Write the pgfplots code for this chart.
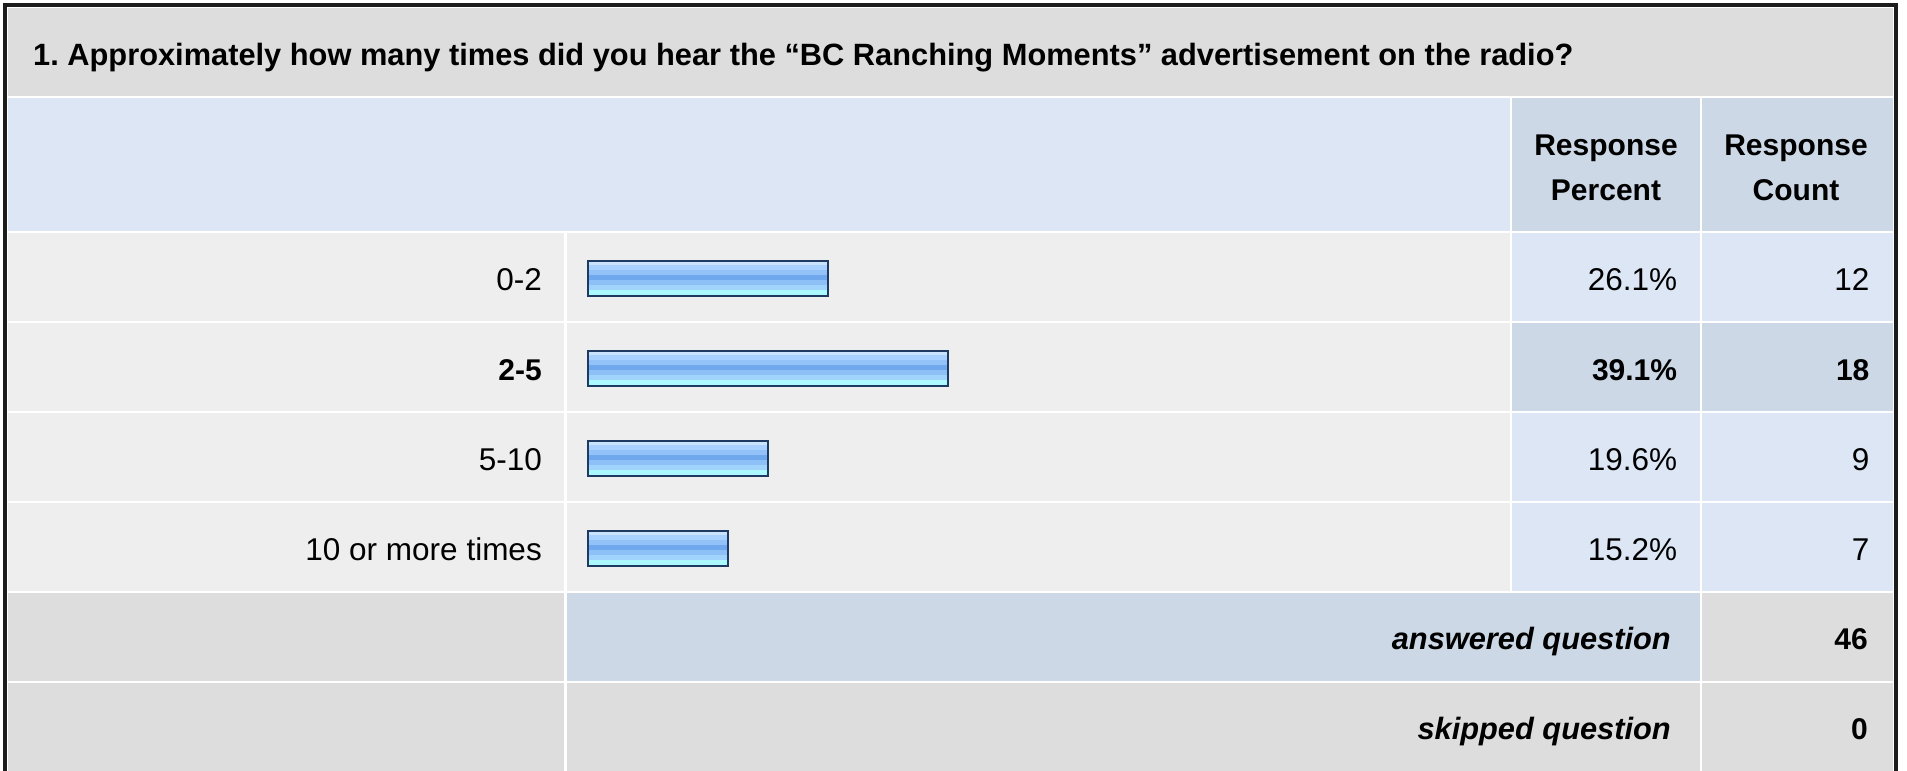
\documentclass[border=0pt]{standalone}
\usepackage{pgfplots}
\pgfplotsset{compat=1.18}
\usepackage{pgfplotstable}
\usepackage{fontspec}
\setmainfont{Liberation Sans}

\definecolor{framec}{HTML}{1C1C1C}
\definecolor{greybg}{HTML}{DDDDDD}
\definecolor{rowbg}{HTML}{EEEEEE}
\definecolor{lightblue}{HTML}{DCE6F4}
\definecolor{midblue}{HTML}{CCD8E6}
\definecolor{barline}{HTML}{1F3A60}
% the bar's gradient, top to bottom
\definecolor{barA}{HTML}{C9E3FF}
\definecolor{barB}{HTML}{A9D1FF}
\definecolor{barC}{HTML}{93C2F9}
\definecolor{barD}{HTML}{70A8EE}
\definecolor{barE}{HTML}{8CC0F7}
\definecolor{barF}{HTML}{A0D4FC}
\definecolor{barG}{HTML}{ABF8FF}

% response percent and count per answer
\pgfplotstableread{
idx pct count
0 26.1 12
1 39.1 18
2 19.6 9
3 15.2 7
}\responses

\newcommand\reg{\fontsize{31.5}{45}\selectfont}
\newcommand\bld{\fontsize{30}{45}\selectfont\bfseries}
\newcommand\bldl{\fontsize{30.8}{45}\selectfont\bfseries}

\begin{document}
\frenchspacing
\reg
\begin{tikzpicture}[txt/.style={inner sep=0pt, anchor=base east}]
\path[use as bounding box] (0pt,0pt) rectangle (1907pt,-771pt);
\begin{scope}[x=1pt,y=-1pt]
  \fill[white] (0,0) rectangle (1907,771);
  \fill[framec] (3,3) rectangle (1898,790);
  \fill[white] (7,7) rectangle (1894,790);
  % title row
  \fill[greybg] (8,8) rectangle (1893,96);
  \node[inner sep=0pt, anchor=base west, font=\bldl] at (33,65) {1. Approximately how many times did you hear the “BC Ranching Moments” advertisement on the radio?};
  % header row
  \fill[lightblue] (8,98) rectangle (1510,231);
  \fill[midblue] (1512,98) rectangle (1700,231);
  \fill[midblue] (1702,98) rectangle (1893,231);
  \node[inner sep=0pt, anchor=base, font=\bld] at (1606,155) {Response};
  \node[inner sep=0pt, anchor=base, font=\bld] at (1606,200) {Percent};
  \node[inner sep=0pt, anchor=base, font=\bld] at (1796,155) {Response};
  \node[inner sep=0pt, anchor=base, font=\bld] at (1796,200) {Count};
  % answer rows
  \foreach \i in {0,...,3}{
    \pgfmathsetmacro\top{233+90*\i}
    \fill[rowbg] (8,\top) rectangle (564,\top+88);
    \fill[rowbg] (567,\top) rectangle (1510,\top+88);
    \fill[lightblue] (1512,\top) rectangle (1700,\top+88);
    \fill[lightblue] (1702,\top) rectangle (1893,\top+88);
  }
  \fill[midblue] (1512,323) rectangle (1700,411);
  \fill[midblue] (1702,323) rectangle (1893,411);
  % answered row
  \fill[greybg] (8,593) rectangle (564,681);
  \fill[midblue] (567,593) rectangle (1700,681);
  \fill[greybg] (1702,593) rectangle (1893,681);
  \node[txt, font=\bldl\itshape] at (1671,649) {answered question};
  \node[txt, font=\bld] at (1868,649) {46};
  % skipped row
  \fill[greybg] (8,683) rectangle (564,790);
  \fill[greybg] (567,683) rectangle (1700,790);
  \fill[greybg] (1702,683) rectangle (1893,790);
  \node[txt, font=\bldl\itshape] at (1671,739) {skipped question};
  \node[txt, font=\bld] at (1868,739) {0};
\end{scope}
% answers run from top (idx 0) to bottom: plotted at y = 3 - idx
\begin{axis}[
    at={(588pt,-233pt)}, anchor=north west,
    scale only axis, width=920pt, height=360pt,
    xmin=0, xmax=100, ymin=-0.5, ymax=3.5,
    axis line style={draw=none},
    major tick length=0pt,
    xtick=\empty,
    ytick={0,1,2,3},
    yticklabels={10 or more times,5-10,{\bld 2-5},0-2},
    yticklabel style={font=\reg, inner sep=0pt, anchor=base east,
        xshift=-46pt, yshift=-12.5pt},
    clip=false,
    stripe/.style={xbar, draw=none, bar width=6pt, bar shift=#1},
]
% gradient of the bars: seven stripes, top to bottom
\addplot[stripe=15pt,  fill=barA] table[x=pct, y expr=3-\thisrow{idx}] {\responses};
\addplot[stripe=10pt,  fill=barB] table[x=pct, y expr=3-\thisrow{idx}] {\responses};
\addplot[stripe=5pt,   fill=barC] table[x=pct, y expr=3-\thisrow{idx}] {\responses};
\addplot[stripe=0pt,   fill=barD] table[x=pct, y expr=3-\thisrow{idx}] {\responses};
\addplot[stripe=-5pt,  fill=barE] table[x=pct, y expr=3-\thisrow{idx}] {\responses};
\addplot[stripe=-10pt, fill=barF] table[x=pct, y expr=3-\thisrow{idx}] {\responses};
\addplot[stripe=-15pt, fill=barG] table[x=pct, y expr=3-\thisrow{idx}] {\responses};
% outline
\addplot[xbar, bar width=35pt, bar shift=0pt, fill=none, draw=barline,
    line width=2pt] table[x=pct, y expr=3-\thisrow{idx}] {\responses};
\begin{scope}[yshift=-12.5pt]
\node[txt] at (axis cs:118.4,3) {26.1\%};
\node[txt, font=\bld] at (axis cs:118.4,2) {39.1\%};
\node[txt] at (axis cs:118.4,1) {19.6\%};
\node[txt] at (axis cs:118.4,0) {15.2\%};
\node[txt] at (axis cs:139.3,3) {12};
\node[txt, font=\bld] at (axis cs:139.3,2) {18};
\node[txt] at (axis cs:139.3,1) {9};
\node[txt] at (axis cs:139.3,0) {7};
\end{scope}
\end{axis}
\end{tikzpicture}
\end{document}
